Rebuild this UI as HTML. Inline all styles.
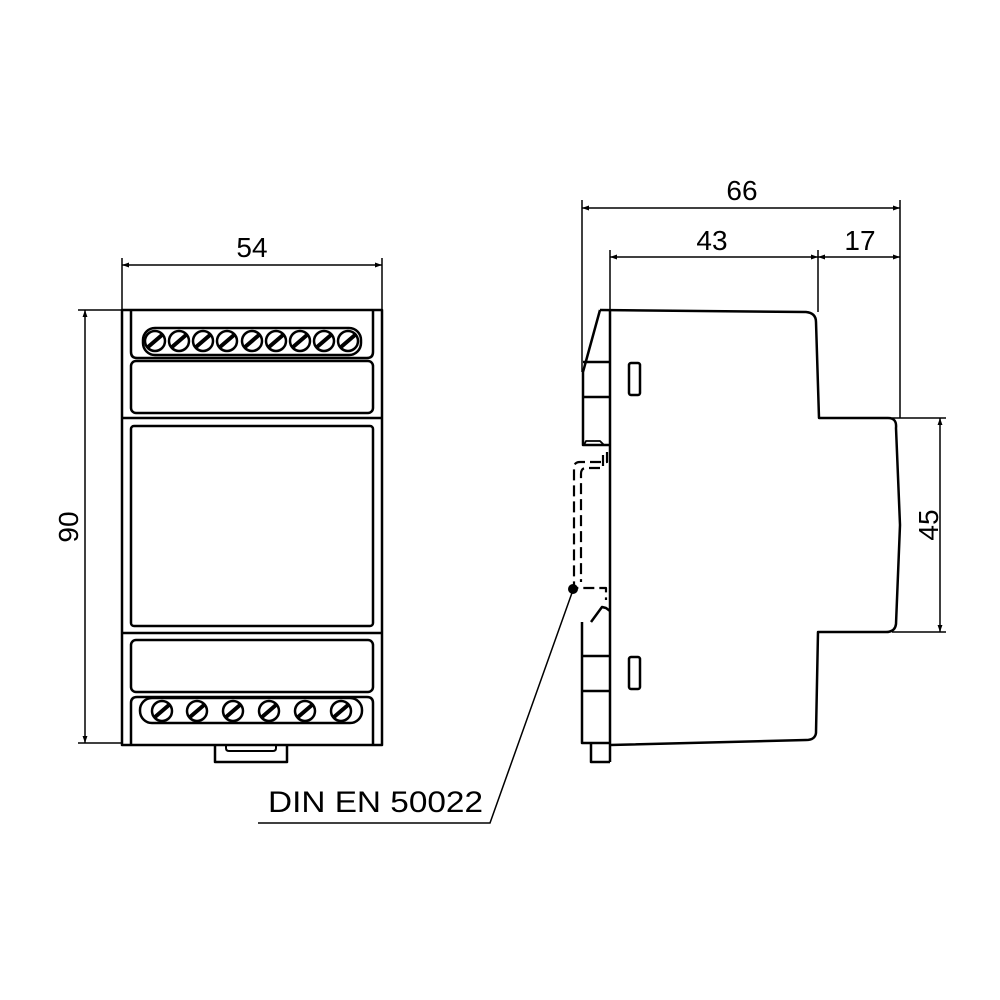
<!DOCTYPE html>
<html><head><meta charset="utf-8"><style>body{margin:0;background:#fff}svg{display:block}</style></head><body>
<svg width="1000" height="1000" viewBox="0 0 1000 1000" xmlns="http://www.w3.org/2000/svg" font-family="Liberation Sans, sans-serif">
<defs>
<marker id="a" viewBox="0 0 10 10" refX="10" refY="5" markerWidth="14" markerHeight="7" orient="auto-start-reverse" markerUnits="userSpaceOnUse"><path d="M0,1.5 L10,5 L0,8.5 Z" fill="#000"/></marker>
<g id="s"><circle r="10" fill="#fff" stroke="#000" stroke-width="2.5"/><line x1="-7" y1="6" x2="7" y2="-6" stroke="#000" stroke-width="4"/></g>
</defs>
<g fill="none" stroke="#000" stroke-width="2.5" stroke-linejoin="round">
<rect x="122" y="310" width="260" height="435"/>
<path d="M131,310 V352 Q131,358 137,358 H367 Q373,358 373,352 V310"/>
<rect x="143" y="328" width="218" height="27" rx="12"/>
<rect x="131" y="361" width="242" height="52" rx="5"/>
<line x1="122" y1="418" x2="382" y2="418"/>
<rect x="131" y="426" width="242" height="200" rx="3"/>
<line x1="122" y1="633" x2="382" y2="633"/>
<rect x="131" y="640" width="242" height="52" rx="5"/>
<path d="M131,745 V703 Q131,697 137,697 H367 Q373,697 373,703 V745"/>
<rect x="140" y="698" width="222" height="25" rx="12"/>
<path d="M215,745 V762 H287 V745"/>
<path d="M226,745 V748 Q226,751 229,751 H273 Q276,751 276,748 V745" stroke-width="2"/>
<path d="M610,310 V762"/>
<path d="M600,310 L806,312 Q816,313 816,322 L819,418 H888 Q897,418 896,428 L900,525 L896,624 Q895,632 886,632 H818 L816,733 Q815,740 806,740 L610,745"/>
<path d="M600,310 L583,372 V445 H610"/>
<path d="M583,362 H610 M583,397 H610"/>
<path d="M584,445 L586,441 H600 L604,445" stroke-width="1.8"/>
<rect x="629" y="363" width="11" height="32" rx="2"/>
<path d="M582,622 V743 H610 M582,656 H610 M582,691 H610"/>
<path d="M591,743 V762 H610"/>
<path d="M591,622 L602,607 L606,608 L610,611"/>
<rect x="629" y="657" width="11" height="32" rx="2"/>
<g stroke-dasharray="11,5" stroke-width="2.2">
<path d="M607,452 V462 H580 Q574,462 574,468 V588 H606 V600"/>
<path d="M603,455 V468 H586 Q581,468 581,474 V582"/>
</g>
</g>
<circle cx="573" cy="589" r="5" fill="#000"/>
<g fill="none" stroke="#000" stroke-width="1.5">
<path d="M573,590 L490,823 H258"/>
<path d="M122,258 V310 M382,258 V310"/>
<line x1="122" y1="265" x2="382" y2="265" marker-start="url(#a)" marker-end="url(#a)"/>
<path d="M78,310 H122 M78,743 H122"/>
<line x1="85" y1="310" x2="85" y2="743" marker-start="url(#a)" marker-end="url(#a)"/>
<path d="M582,200 V372 M900,200 V418"/>
<line x1="582" y1="208" x2="900" y2="208" marker-start="url(#a)" marker-end="url(#a)"/>
<path d="M610,250 V310 M818,250 V312"/>
<line x1="610" y1="257" x2="818" y2="257" marker-start="url(#a)" marker-end="url(#a)"/>
<line x1="818" y1="257" x2="900" y2="257" marker-start="url(#a)" marker-end="url(#a)"/>
<path d="M892,418 H946 M892,632 H946"/>
<line x1="940" y1="418" x2="940" y2="632" marker-start="url(#a)" marker-end="url(#a)"/>
</g>
<g>
<use href="#s" x="155" y="341"/><use href="#s" x="179" y="341"/><use href="#s" x="203" y="341"/><use href="#s" x="227" y="341"/><use href="#s" x="252" y="341"/><use href="#s" x="276" y="341"/><use href="#s" x="300" y="341"/><use href="#s" x="324" y="341"/><use href="#s" x="348" y="341"/>
<use href="#s" x="162" y="711"/><use href="#s" x="197" y="711"/><use href="#s" x="233" y="711"/><use href="#s" x="269" y="711"/><use href="#s" x="305" y="711"/><use href="#s" x="341" y="711"/>
</g>
<g font-size="28" fill="#000" text-anchor="middle">
<text x="252" y="257">54</text>
<text x="742" y="200">66</text>
<text x="712" y="250">43</text>
<text x="860" y="250">17</text>
<text transform="translate(78,527) rotate(-90)">90</text>
<text transform="translate(938,525) rotate(-90)">45</text>
</g>
<text x="268" y="812" font-size="30" textLength="215" lengthAdjust="spacingAndGlyphs" fill="#000">DIN EN 50022</text>
</svg>
</body></html>
